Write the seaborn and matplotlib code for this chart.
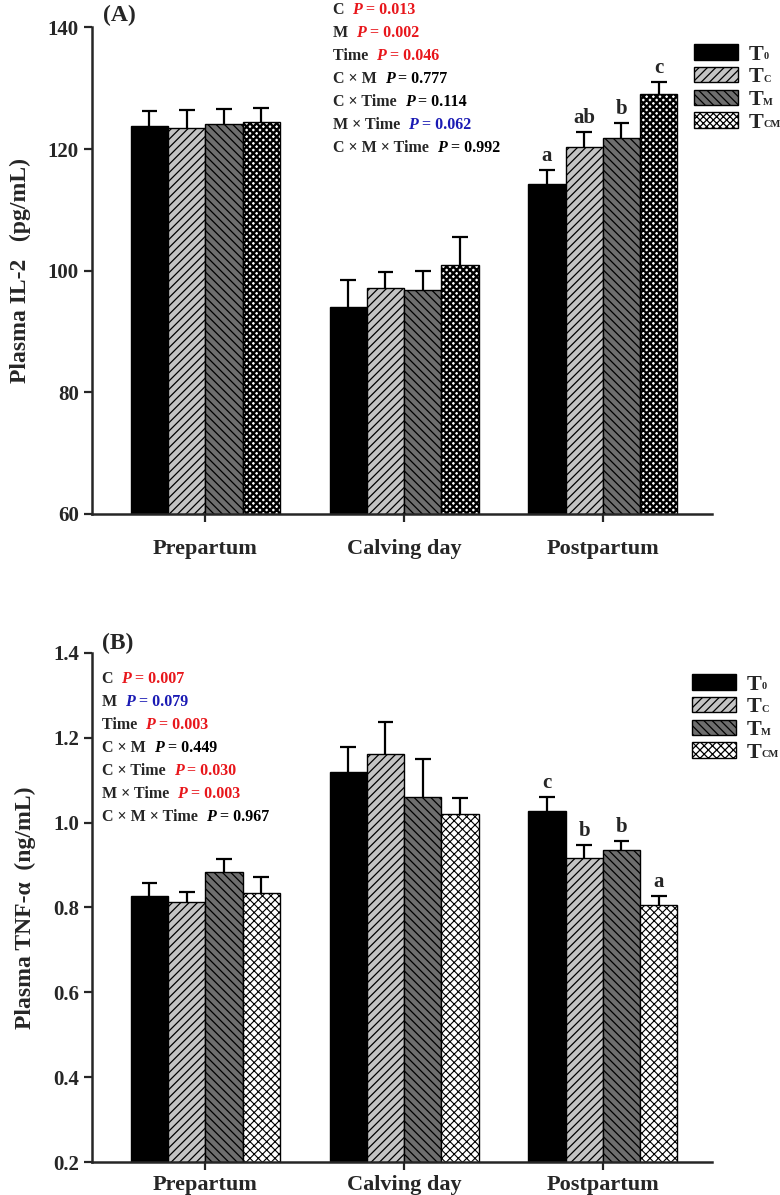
import numpy as np
import pandas as pd
import matplotlib
matplotlib.use("Agg")
import matplotlib.pyplot as plt
import seaborn as sns
from matplotlib.patches import Patch
from matplotlib.text import Annotation

# ---- data ----
periods = ["Prepartum", "Calving day", "Postpartum"]
treatments = ["T0", "TC", "TM", "TCM"]
legend_subs = ["0", "C", "M", "CM"]

il2_T0 = [123.8, 94.0, 114.2]
il2_TC = [123.5, 97.2, 120.4]
il2_TM = [124.2, 96.9, 121.9]
il2_TCM = [124.5, 100.9, 129.0]
il2_sem_T0 = [2.4, 4.5, 2.3]
il2_sem_TC = [3.0, 2.6, 2.4]
il2_sem_TM = [2.4, 3.0, 2.4]
il2_sem_TCM = [2.3, 4.6, 2.0]
il2_letters = ["a", "ab", "b", "c"]

tnf_T0 = [0.827, 1.120, 1.027]
tnf_TC = [0.812, 1.162, 0.917]
tnf_TM = [0.884, 1.060, 0.936]
tnf_TCM = [0.834, 1.021, 0.806]
tnf_sem_T0 = [0.031, 0.058, 0.033]
tnf_sem_TC = [0.025, 0.075, 0.030]
tnf_sem_TM = [0.030, 0.090, 0.020]
tnf_sem_TCM = [0.038, 0.036, 0.022]
tnf_letters = ["c", "b", "b", "a"]

il2_stats = [("C", "0.013", "red"), ("M", "0.002", "red"), ("Time", "0.046", "red"),
             ("C \u00d7 M", "0.777", "black"), ("C \u00d7 Time", "0.114", "black"),
             ("M \u00d7 Time", "0.062", "blue"), ("C \u00d7 M \u00d7 Time", "0.992", "black")]
tnf_stats = [("C", "0.007", "red"), ("M", "0.079", "blue"), ("Time", "0.003", "red"),
             ("C \u00d7 M", "0.449", "black"), ("C \u00d7 Time", "0.030", "red"),
             ("M \u00d7 Time", "0.003", "red"), ("C \u00d7 M \u00d7 Time", "0.967", "black")]

RED = "#e8161b"
BLUE = "#1a1ab4"

sns.set_style("ticks")
plt.rcParams["font.family"] = ["Liberation Serif", "DejaVu Serif"]
plt.rcParams["font.weight"] = "bold"
plt.rcParams["hatch.linewidth"] = 0.9

colors = ["black", "#c4c4c4", "#6e6e6e", "white"]
hatch_A = ["", "////", "\\\\\\\\", "xxxxx"]
hatch_B = ["", "////", "\\\\\\\\", "xxxx"]


def make_df(vals):
    rows = []
    for t, v in zip(treatments, vals):
        for p, y in zip(periods, v):
            rows.append({"period": p, "treatment": t, "value": y})
    return pd.DataFrame(rows)


def draw_panel(ax, vals, sems, letters, ylim, yticks, ylabel, hatches, tcm_lw, xpad):
    df = make_df(vals)
    sns.barplot(data=df, x="period", y="value", hue="treatment", hue_order=treatments,
                palette=colors, width=0.75, errorbar=None, edgecolor="black",
                linewidth=1.0, legend=False, ax=ax)
    for k, cont in enumerate(ax.containers):
        xs, tops = [], []
        for bar in cont:
            bar.set_hatch(hatches[k])
            if k == 3 and hasattr(bar, "set_hatch_linewidth"):
                bar.set_hatch_linewidth(tcm_lw)
            xs.append(bar.get_x() + bar.get_width() / 2)
            tops.append(bar.get_height())
        xs = np.array(xs)
        tops = np.array(tops)
        err = np.array(sems[k])
        cap_hw = cont[0].get_width() * 0.21
        ax.vlines(xs, tops, tops + err, color="black", lw=1.6, zorder=1)
        ax.hlines(tops + err, xs - cap_hw, xs + cap_hw, color="black", lw=1.6, zorder=1)
        ax.text(xs[2], tops[2] + err[2] + (ylim[1] - ylim[0]) * 0.008, letters[k],
                ha="center", va="bottom", fontsize=15, fontweight="bold")
    ax.set_ylim(*ylim)
    ax.set_xlim(-0.57, 2.55)
    ax.set_yticks(yticks)
    ax.set_xlabel("")
    ax.set_ylabel(ylabel, fontsize=17, fontweight="bold", labelpad=12)
    sns.despine(ax=ax)
    for s in ["left", "bottom"]:
        ax.spines[s].set_linewidth(1.8)
    ax.tick_params(axis="both", width=1.6, length=6, labelsize=15)
    ax.tick_params(axis="x", labelsize=16, pad=xpad)
    for lab in ax.get_xticklabels() + ax.get_yticklabels():
        lab.set_fontweight("bold")


def stat_block(fig, x, y0, dy, stats):
    for i, (name, p, col) in enumerate(stats):
        c = RED if col == "red" else (BLUE if col == "blue" else "black")
        y = y0 - i * dy
        t1 = fig.text(x, y, name + "  ", fontsize=11.5, fontweight="bold", va="center")
        a1 = Annotation("P", xy=(1, 0), xycoords=t1, fontsize=11.5, fontweight="bold",
                        style="italic", color=c, va="bottom", ha="left")
        fig.add_artist(a1)
        a2 = Annotation(" = " + p, xy=(1, 0), xycoords=a1, fontsize=11.5,
                        fontweight="bold", color=c, va="bottom", ha="left")
        fig.add_artist(a2)


def legend_block(fig, ax, top, left, hatches):
    handles = [Patch(facecolor=c, edgecolor="black", hatch=h, linewidth=1.0)
               for c, h in zip(colors, hatches)]
    leg = ax.legend(handles, ["T"] * 4, loc="upper left",
                    bbox_to_anchor=(left / 780, 1 - top / 1195), bbox_transform=fig.transFigure,
                    frameon=False, fontsize=16, handlelength=2.0, handleheight=0.7,
                    labelspacing=0.1, borderpad=0, borderaxespad=0, handletextpad=0.45)
    for txt, sub in zip(leg.get_texts(), legend_subs):
        txt.set_fontweight("bold")
        fig.add_artist(Annotation(sub, xy=(1, 0.18), xycoords=txt, fontsize=7.5,
                                  fontweight="bold", va="bottom", ha="left"))


fig = plt.figure(figsize=(7.8, 11.95), dpi=100)
axA = fig.add_axes([0.118, 0.570, 0.795, 0.407])
axB = fig.add_axes([0.118, 0.0276, 0.795, 0.426])

draw_panel(axA, [il2_T0, il2_TC, il2_TM, il2_TCM],
           [il2_sem_T0, il2_sem_TC, il2_sem_TM, il2_sem_TCM], il2_letters,
           (60, 140), [60, 80, 100, 120, 140], "Plasma IL-2   (pg/mL)", hatch_A, 1.7, 12)
draw_panel(axB, [tnf_T0, tnf_TC, tnf_TM, tnf_TCM],
           [tnf_sem_T0, tnf_sem_TC, tnf_sem_TM, tnf_sem_TCM], tnf_letters,
           (0.2, 1.4), [0.2, 0.4, 0.6, 0.8, 1.0, 1.2, 1.4], "Plasma TNF-\u03b1  (ng/mL)", hatch_B, 0.8, 3)
axB.set_yticklabels([f"{v:.1f}" for v in [0.2, 0.4, 0.6, 0.8, 1.0, 1.2, 1.4]], fontweight="bold")

fig.text(103 / 780, 1 - 15 / 1195, "(A)", fontsize=17, fontweight="bold", va="center")
fig.text(102 / 780, 1 - 643 / 1195, "(B)", fontsize=17, fontweight="bold", va="center")

stat_block(fig, 333 / 780, 1 - 10 / 1195, 23 / 1195, il2_stats)
stat_block(fig, 102 / 780, 1 - 679 / 1195, 23 / 1195, tnf_stats)

legend_block(fig, axA, 44, 694, hatch_A)
legend_block(fig, axB, 674, 692, hatch_B)

fig.savefig("out.png", dpi=100)
